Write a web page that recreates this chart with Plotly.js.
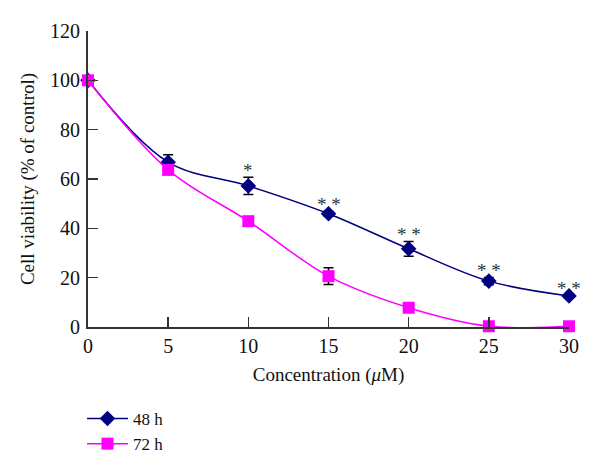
<!DOCTYPE html>
<html>
<head>
<meta charset="utf-8">
<script src="https://cdn.plot.ly/plotly-3.0.1.min.js"></script>
<style>html,body{margin:0;padding:0;background:#fff;}#chart{width:600px;height:474px;}</style>
</head>
<body>
<div id="chart"></div>
<script>
const concentration = [0, 5, 10, 15, 20, 25, 30];
const viability48 = [100, 66.8, 57.2, 45.9, 31.7, 18.6, 12.6];
const error48 = [0, 3, 3.5, 1, 3, 1.5, 0.5];
const viability72 = [100, 63.7, 42.9, 20.6, 7.8, 0.3, 0.3];
const error72 = [0, 0, 0, 3.4, 0, 0, 0];
const significance48 = ['', '', '*', '* *', '* *', '* *', '* *'];
const seriesNames = ['48 h', '72 h'];

const FONT = 'Liberation Serif, Times New Roman, serif';

const trace48 = {
  x: concentration, y: viability48, name: seriesNames[0],
  type: 'scatter', mode: 'lines+markers', cliponaxis: false,
  line: {shape: 'spline', smoothing: 1, color: '#000080', width: 1.5},
  marker: {symbol: 'diamond', size: 12, color: '#000080'},
  error_y: {type: 'data', array: error48, visible: true, color: '#000000', thickness: 1.5, width: 5}
};
const trace72 = {
  x: concentration, y: viability72, name: seriesNames[1],
  type: 'scatter', mode: 'lines+markers', cliponaxis: false,
  line: {shape: 'spline', smoothing: 1, color: '#ff00ff', width: 1.5},
  marker: {symbol: 'square', size: 12, color: '#ff00ff'},
  error_y: {type: 'data', array: error72, visible: true, color: '#000000', thickness: 1.5, width: 5}
};

const annotations = concentration.map((c, i) => ({
  x: c, y: viability48[i] + error48[i], xref: 'x', yref: 'y',
  text: significance48[i], showarrow: false, yanchor: 'bottom', yshift: -6,
  font: {family: FONT, size: 19, color: '#333'}
})).filter(a => a.text);

const layout = {
  width: 600, height: 474,
  margin: {l: 88, r: 31, t: 31, b: 147},
  paper_bgcolor: '#fff', plot_bgcolor: '#fff',
  font: {family: FONT, size: 19, color: '#111'},
  showlegend: true,
  legend: {x: -0.0125, y: -0.25, xanchor: 'left', yanchor: 'top', itemwidth: 41,
           bgcolor: 'rgba(0,0,0,0)', font: {family: FONT, size: 17}},
  xaxis: {
    range: [0, 30], showgrid: false, zeroline: false,
    showline: true, linecolor: '#333', linewidth: 2,
    ticks: 'inside', ticklen: 10, tickwidth: 1.5, tickcolor: '#333',
    tickvals: concentration, ticklabelstandoff: 0,
    tickfont: {family: FONT, size: 20},
    title: {text: 'Concentration (<i>μ</i>M)', font: {family: FONT, size: 19}, standoff: 12}
  },
  yaxis: {
    range: [0, 120], dtick: 20, showgrid: false, zeroline: false,
    showline: true, linecolor: '#333', linewidth: 2,
    ticks: 'inside', ticklen: 10, tickwidth: 1.5, tickcolor: '#333',
    ticklabelstandoff: 2,
    tickfont: {family: FONT, size: 20},
    title: {text: 'Cell viability (% of control)', font: {family: FONT, size: 19}, standoff: 10}
  },
  annotations: annotations
};

Plotly.newPlot('chart', [trace48, trace72], layout, {displayModeBar: false, staticPlot: true});
</script>
</body>
</html>
